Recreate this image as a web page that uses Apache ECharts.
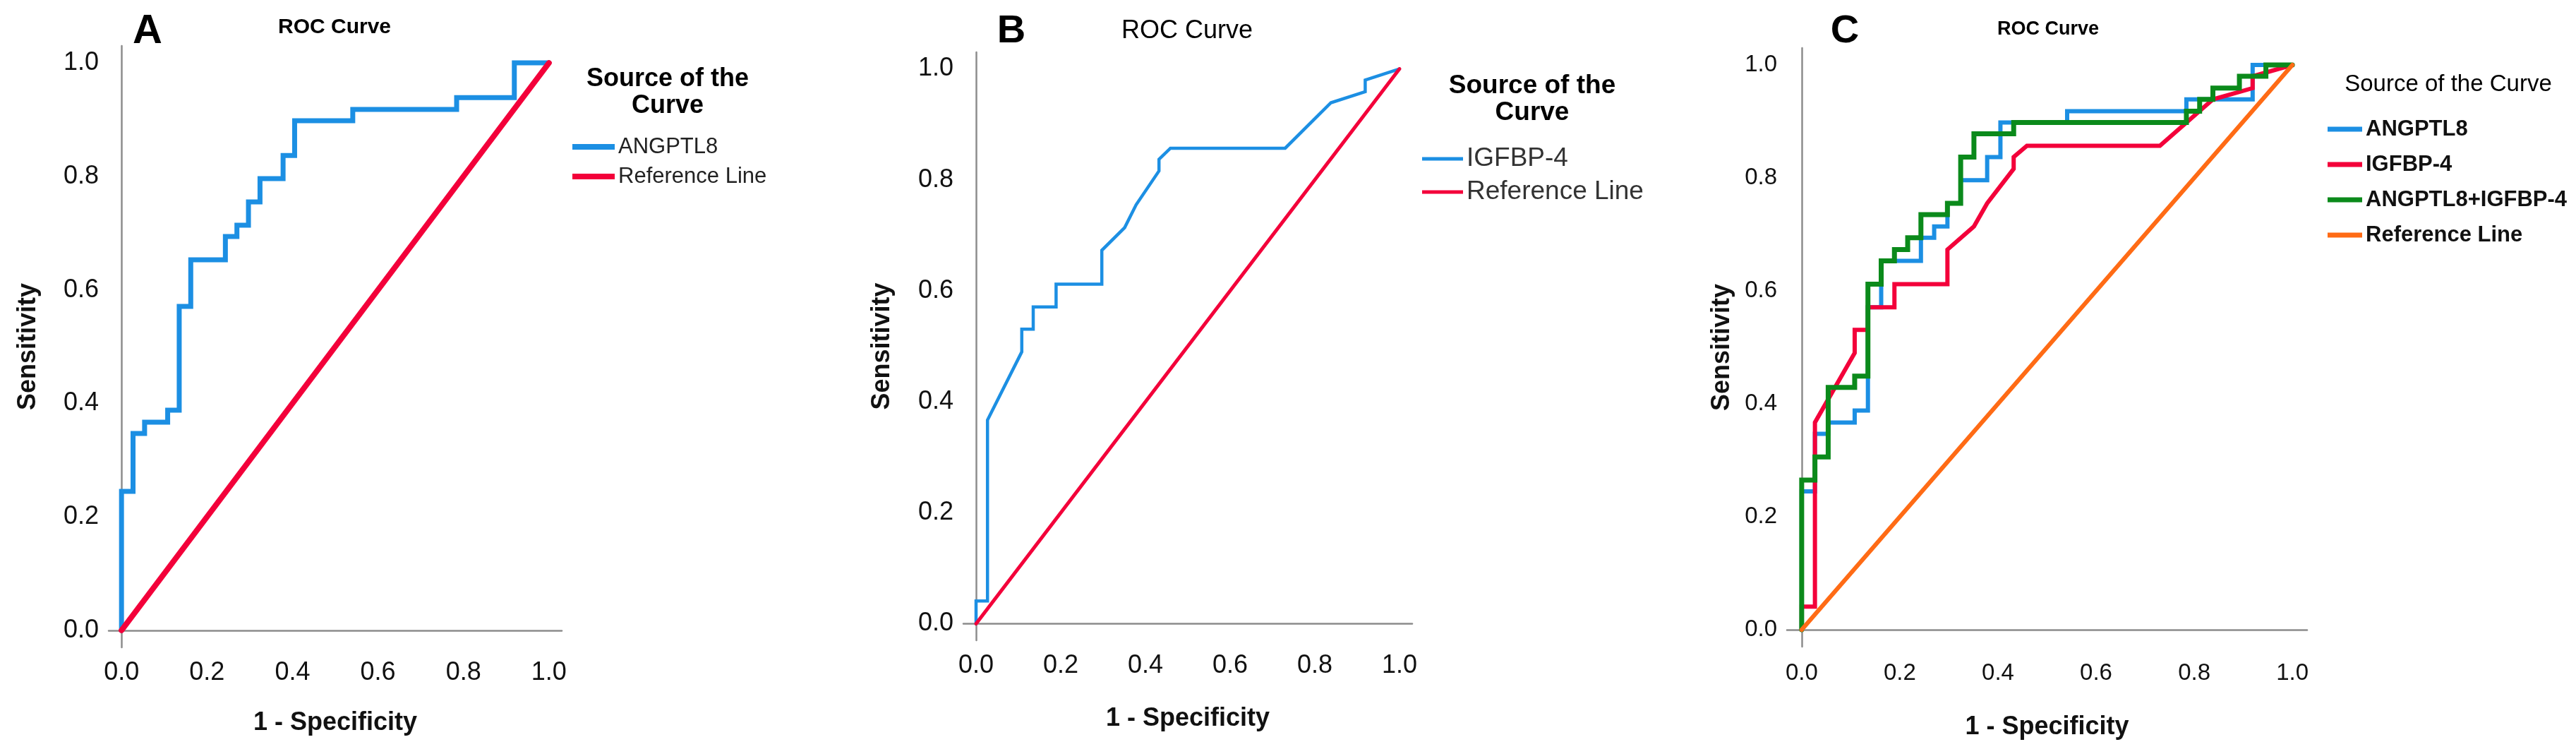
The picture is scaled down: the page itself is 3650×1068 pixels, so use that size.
<!DOCTYPE html>
<html><head><meta charset="utf-8">
<script src="https://cdn.jsdelivr.net/npm/echarts@6/dist/echarts.min.js"></script>
<style>html,body{margin:0;padding:0;background:#fff}#c{width:3650px;height:1068px}</style>
</head><body><div id="c"></div>
<script>
// ---- data ----
const tickValues = [0, 0.2, 0.4, 0.6, 0.8, 1.0];
const seriesNames = ['ANGPTL8', 'IGFBP-4', 'ANGPTL8+IGFBP-4', 'Reference Line'];

const angptl8FPR = [0, 0, 0.027, 0.027, 0.054, 0.054, 0.108, 0.108, 0.135, 0.135, 0.162, 0.162, 0.243, 0.243, 0.270, 0.270, 0.297, 0.297, 0.324, 0.324, 0.378, 0.378, 0.405, 0.405, 0.541, 0.541, 0.784, 0.784, 0.919, 0.919, 1];
const angptl8TPR = [0, 0.245, 0.245, 0.347, 0.347, 0.367, 0.367, 0.388, 0.388, 0.571, 0.571, 0.653, 0.653, 0.694, 0.694, 0.714, 0.714, 0.755, 0.755, 0.796, 0.796, 0.837, 0.837, 0.898, 0.898, 0.918, 0.918, 0.939, 0.939, 1, 1];

const igfbp4FPR = [0, 0, 0.027, 0.027, 0.108, 0.108, 0.135, 0.135, 0.189, 0.189, 0.297, 0.297, 0.351, 0.378, 0.432, 0.432, 0.459, 0.730, 0.838, 0.919, 0.919, 1];
const igfbp4TPR = [0, 0.041, 0.041, 0.367, 0.490, 0.531, 0.531, 0.571, 0.571, 0.612, 0.612, 0.673, 0.714, 0.755, 0.816, 0.837, 0.857, 0.857, 0.939, 0.959, 0.980, 1];

const combinedFPR = [0, 0, 0.027, 0.027, 0.054, 0.054, 0.108, 0.108, 0.135, 0.135, 0.162, 0.162, 0.189, 0.189, 0.216, 0.216, 0.243, 0.243, 0.297, 0.297, 0.324, 0.324, 0.351, 0.351, 0.432, 0.432, 0.784, 0.784, 0.811, 0.811, 0.838, 0.838, 0.892, 0.892, 0.946, 0.946, 1];
const combinedTPR = [0, 0.265, 0.265, 0.306, 0.306, 0.429, 0.429, 0.449, 0.449, 0.612, 0.612, 0.653, 0.653, 0.673, 0.673, 0.694, 0.694, 0.735, 0.735, 0.755, 0.755, 0.837, 0.837, 0.878, 0.878, 0.898, 0.898, 0.918, 0.918, 0.939, 0.939, 0.959, 0.959, 0.980, 0.980, 1, 1];

const referenceFPR = [0, 1];
const referenceTPR = [0, 1];

// ---- styling ----
const FONT = "'Liberation Sans', Arial, sans-serif";
const BLUE = '#1c8fe3', RED = '#f3003a', GREEN = '#0b8a1b', ORANGE = '#ff6b15', AXIS = '#8c8c8c';

function zip(xs, ys) { return xs.map((x, i) => [x, ys[i]]); }

const panels = [
  { grid: {left: 154, top: 65, width: 642, height: 852}, tickSize: 36, tickWeight: 'normal',
    labelMarginX: 18, yNameGap: 96, xNameGap: 89, nameSize: 36 },
  { grid: {left: 1365, top: 74, width: 636, height: 833}, tickSize: 36, tickWeight: 'normal',
    labelMarginX: 18, yNameGap: 97, xNameGap: 93, nameSize: 36 },
  { grid: {left: 2532, top: 68, width: 737, height: 848}, tickSize: 33, tickWeight: 'normal',
    labelMarginX: 21, yNameGap: 74, xNameGap: 96, nameSize: 36 }
];

const grids = [], xAxes = [], yAxes = [];
panels.forEach((p, i) => {
  grids.push(Object.assign({containLabel: false}, p.grid));
  xAxes.push({
    type: 'value', gridIndex: i, min: -0.03, max: 1.03,
    name: '1 - Specificity', nameLocation: 'middle', nameGap: p.xNameGap,
    nameTextStyle: {fontFamily: FONT, fontSize: p.nameSize, fontWeight: 'bold', color: '#111'},
    axisLine: {show: true, lineStyle: {color: AXIS, width: 2.5}},
    axisTick: {show: false}, splitLine: {show: false},
    axisLabel: {customValues: tickValues, formatter: v => v.toFixed(1), margin: p.labelMarginX,
      fontFamily: FONT, fontSize: p.tickSize, fontWeight: p.tickWeight, color: '#111'}
  });
  yAxes.push({
    type: 'value', gridIndex: i, min: -0.03, max: 1.03,
    name: 'Sensitivity', nameLocation: 'middle', nameGap: p.yNameGap, nameRotate: 90,
    nameTextStyle: {fontFamily: FONT, fontSize: p.nameSize, fontWeight: 'bold', color: '#111'},
    axisLine: {show: true, lineStyle: {color: AXIS, width: 2.5}},
    axisTick: {show: false}, splitLine: {show: false},
    axisLabel: {customValues: tickValues, formatter: v => v.toFixed(1), margin: 14,
      fontFamily: FONT, fontSize: p.tickSize, fontWeight: p.tickWeight, color: '#111'}
  });
});

function line(name, xs, ys, idx, color, width, z) {
  return {
    type: 'line', name: name, xAxisIndex: idx, yAxisIndex: idx, data: zip(xs, ys),
    showSymbol: false, symbol: 'none', animation: false, z: z,
    lineStyle: {color: color, width: width, cap: 'round', join: 'miter'}
  };
}

const series = [
  line(seriesNames[0], angptl8FPR, angptl8TPR, 0, BLUE, 7, 2),
  line(seriesNames[3], referenceFPR, referenceTPR, 0, RED, 8, 3),
  line(seriesNames[1], igfbp4FPR, igfbp4TPR, 1, BLUE, 4.5, 2),
  line(seriesNames[3], referenceFPR, referenceTPR, 1, RED, 5, 3),
  line(seriesNames[0], angptl8FPR, angptl8TPR, 2, BLUE, 6, 2),
  line(seriesNames[1], igfbp4FPR, igfbp4TPR, 2, RED, 6, 3),
  line(seriesNames[2], combinedFPR, combinedTPR, 2, GREEN, 7, 4),
  line(seriesNames[3], referenceFPR, referenceTPR, 2, ORANGE, 6, 5)
];

function legendItem(name, color) { return {name: name, icon: 'rect', itemStyle: {color: color, borderWidth: 0}}; }

const legends = [
  { left: 811, top: 191, orient: 'vertical', padding: 0, itemWidth: 60, itemHeight: 8, itemGap: 8,
    selectedMode: false,
    textStyle: {fontFamily: FONT, fontSize: 31, lineHeight: 34, color: '#222'},
    data: [legendItem(seriesNames[0], BLUE), legendItem(seriesNames[3], RED)] },
  { left: 2015, top: 206, orient: 'vertical', padding: 0, itemWidth: 58, itemHeight: 5, itemGap: 9,
    selectedMode: false,
    textStyle: {fontFamily: FONT, fontSize: 37, lineHeight: 38, color: '#333'},
    data: [legendItem(seriesNames[1], BLUE), legendItem(seriesNames[3], RED)] },
  { left: 3298, top: 163, orient: 'vertical', padding: 0, itemWidth: 49, itemHeight: 7, itemGap: 10,
    selectedMode: false,
    textStyle: {fontFamily: FONT, fontSize: 31, fontWeight: 'bold', lineHeight: 40, color: '#111'},
    data: [legendItem(seriesNames[0], BLUE), legendItem(seriesNames[1], RED),
           legendItem(seriesNames[2], GREEN), legendItem(seriesNames[3], ORANGE)] }
];

function title(text, x, top, size, weight, lh) {
  return {text: text, left: x, top: top, textAlign: 'center', padding: 0, itemGap: 0,
    textStyle: {fontSize: size, fontWeight: weight, fontFamily: FONT, color: '#000', lineHeight: lh || size}};
}

const titles = [
  title('A', 209, 16, 58, 'bold'),
  title('ROC Curve', 474, 24, 30, 'bold'),
  title('Source of the\nCurve', 946, 93, 36, 'bold', 38),
  title('B', 1433, 17, 56, 'bold'),
  title('ROC Curve', 1682, 26, 36, 'normal'),
  title('Source of the\nCurve', 2171, 103, 37, 'bold', 38),
  title('C', 2614, 17, 56, 'bold'),
  title('ROC Curve', 2902, 28, 27, 'bold'),
  title('Source of the Curve', 3469, 103, 33, 'normal')
];

const chart = echarts.init(document.getElementById('c'), null, {renderer: 'canvas'});
chart.setOption({
  backgroundColor: '#ffffff',
  animation: false,
  title: titles,
  legend: legends,
  grid: grids,
  xAxis: xAxes,
  yAxis: yAxes,
  series: series
});
</script>
</body></html>
